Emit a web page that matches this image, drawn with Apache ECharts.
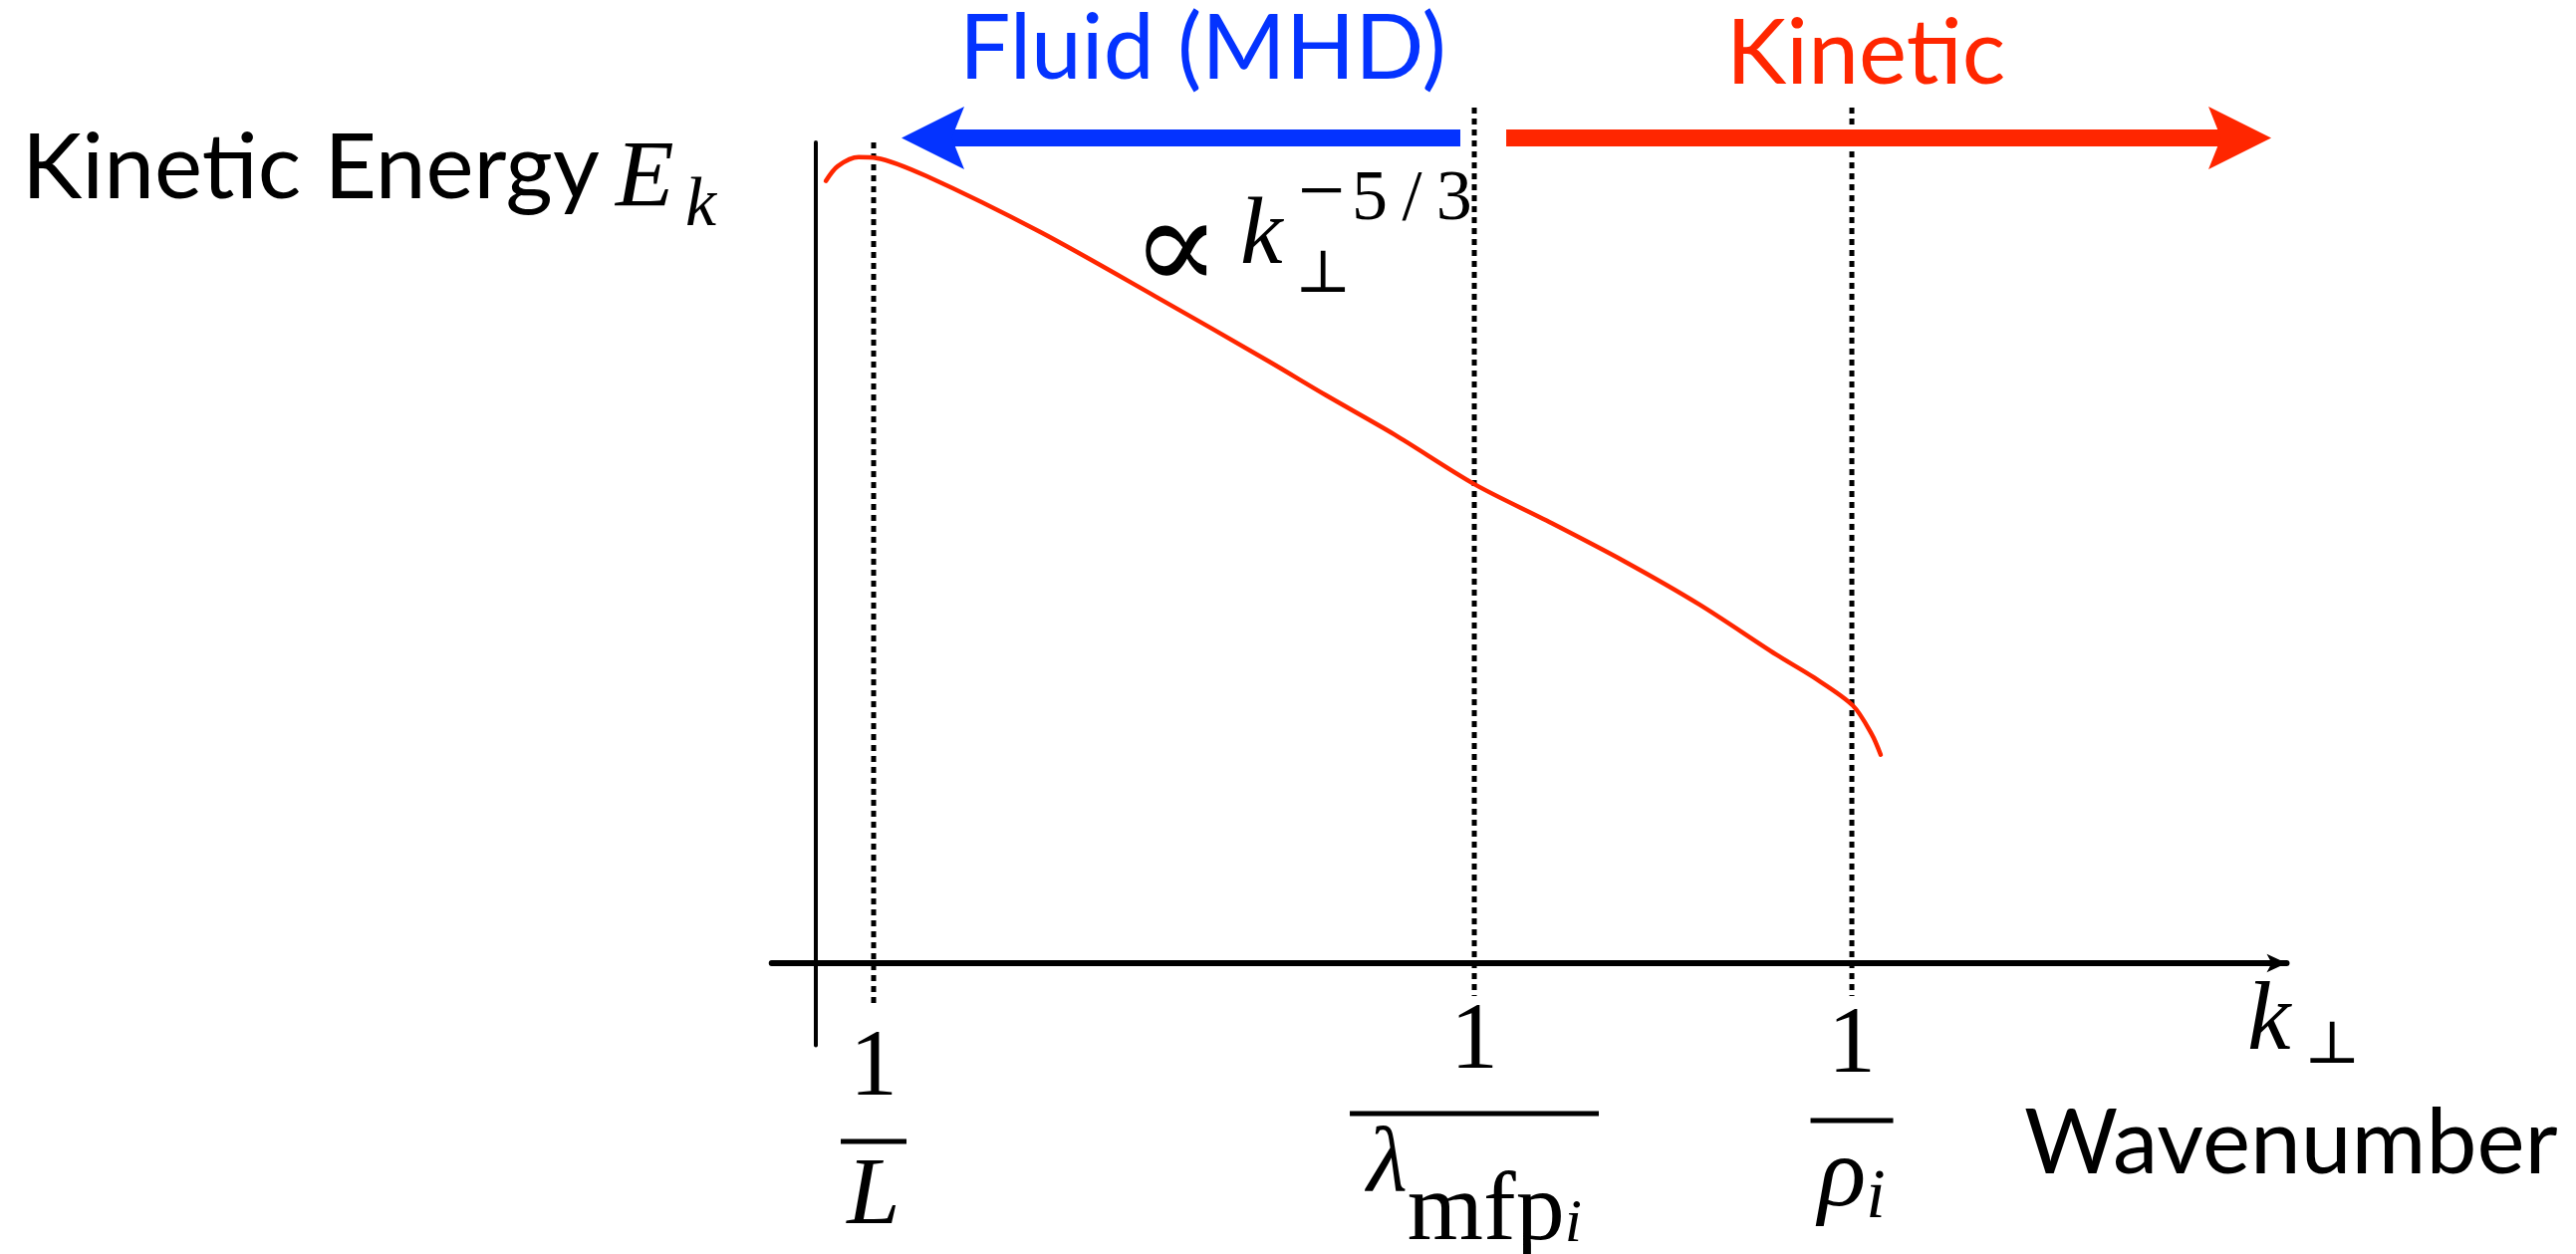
<!DOCTYPE html>
<html>
<head>
<meta charset="utf-8">
<script src="https://cdn.jsdelivr.net/npm/echarts@6/dist/echarts.min.js"></script>
<style>
html, body { margin: 0; padding: 0; background: #ffffff; }
#chart { width: 2586px; height: 1259px; }
</style>
</head>
<body>
<div id="chart"></div>
<script>
// ---------------- data (schematic units) ----------------
// perpendicular wavenumber position (axis units) and kinetic energy (axis units)
const kPerp  = [0.68, 1.49, 2.91, 4.13, 7.52, 15.24, 23.03, 30.82, 34.68, 39.35, 44.84, 49.71, 54.93, 60.07, 65.29, 67.86, 70.50, 71.79, 72.40];
const energy = [95.3, 97.1, 98.2, 98.1, 95.9, 89.1, 81.3, 73.3, 69.2, 64.4, 58.3, 53.9, 49.0, 43.7, 37.6, 34.8, 31.4, 27.9, 25.4];

// characteristic scales 1/L, 1/lambda_mfp_i, 1/rho_i
const scaleMarks   = [3.93, 44.77, 70.44];
const scaleNum     = ['1', '1', '1'];
const scaleDen     = ['L', 'λ', 'ρ'];
const scaleDenSub  = ['', 'mfp', ''];
const scaleDenIdx  = ['', 'i', 'i'];
const guideTop     = [100.0, 104.25, 104.25];
const guideBottom  = [-5.2, -4.0, -4.0];

// regime arrows
const regimeNames  = ['Fluid (MHD)', 'Kinetic'];
const fluidRange   = [43.82, 7.96];
const kineticRange = [46.94, 96.82];
const regimeLevel  = 100.55;

// axis texts
const yTitle = 'Kinetic Energy';
const xTitle = 'Wavenumber';
const slopeExp = '5\u2009/\u20093';

// ---------------- styling / layout ----------------
const BLUE = '#0433ff';
const RED = '#ff2600';
const SANS = 'Lato';
const SERIF = 'Liberation Serif';
const MATH = 'DejaVu Serif';
const ARROW = 'path://M50,0 L100,100 L50,80 L0,100 Z';

const F = {
  num:  { size: 96, style: 'normal' },
  denL: { size: 96, style: 'italic' },
  lam:  { size: 94, style: 'italic' },
  mfp:  { size: 98, style: 'normal' },
  subI: { size: 62, style: 'italic' },
  rho:  { size: 100, style: 'italic' },
  rhoI: { size: 70, style: 'italic' }
};

const measureCtx = document.createElement('canvas').getContext('2d');
function textWidth(text, f) {
  measureCtx.font = f.style + ' ' + f.size + 'px "' + SERIF + '"';
  return measureCtx.measureText(text).width;
}
const wLam = textWidth(scaleDen[1], F.lam);
const wSub = textWidth(scaleDenSub[1], F.mfp) + textWidth(scaleDenIdx[1], F.subI);
const wRho = textWidth(scaleDen[2], F.rho);
const wRhoI = textWidth(scaleDenIdx[2], F.rhoI);

const chart = echarts.init(document.getElementById('chart'), null, { renderer: 'canvas' });

function markIndex(v) {
  let best = 0;
  for (let i = 1; i < scaleMarks.length; i++) {
    if (Math.abs(scaleMarks[i] - v) < Math.abs(scaleMarks[best] - v)) best = i;
  }
  return best;
}

// main fraction: numerator, bar, denominator base symbol (subscripts reserved as blank space)
function fracLabel(v) {
  const idx = markIndex(v);
  if (idx === 0) return '{nL|' + scaleNum[0] + '}\n{bL|}\n{dL|' + scaleDen[0] + '}';
  if (idx === 1) return '{nM|' + scaleNum[1] + '}\n{bM|}\n{dM|' + scaleDen[1] + '}{gM|}';
  return '{nR|' + scaleNum[2] + '}\n{bR|}\n{dR|' + scaleDen[2] + '}{gR|}';
}
// subscripts, drawn lower on a second (label-only) axis sharing the same scale
function subLabel(v) {
  const idx = markIndex(v);
  if (idx === 1) return '{hM|}{sM|' + scaleDenSub[1] + '}{iM|' + scaleDenIdx[1] + '}';
  if (idx === 2) return '{hR|}{iR|' + scaleDenIdx[2] + '}';
  return '';
}

const serif = (f, extra) => Object.assign({ fontFamily: SERIF, fontSize: f.size, fontStyle: f.style, color: '#000' }, extra || {});
const gap = (w) => ({ width: w, height: 1, lineHeight: 1 });

const rich = {
  nL: serif(F.num, { lineHeight: 153.5, padding: [14, 0, 0, 0] }),
  bL: { width: 66, height: 5, lineHeight: 5, backgroundColor: '#000' },
  dL: serif(F.denL, { lineHeight: 108 }),

  nM: serif(F.num, { lineHeight: 125.5, padding: [0, 0, 12, 0] }),
  bM: { width: 250, height: 5, lineHeight: 5, backgroundColor: '#000' },
  dM: serif(F.lam, { lineHeight: 100 }),
  gM: gap(wSub),

  nR: serif(F.num, { lineHeight: 132.5, padding: [0, 0, 11, 0] }),
  bR: { width: 83, height: 5, lineHeight: 5, backgroundColor: '#000' },
  dR: serif(F.rho, { lineHeight: 100, padding: [13, 0, 0, 0] }),
  gR: gap(wRhoI)
};

const richSub = {
  hM: gap(wLam),
  sM: serif(F.mfp, { lineHeight: 100 }),
  iM: serif(F.subI, { lineHeight: 100, padding: [24, 0, 0, 0] }),
  hR: gap(wRho),
  iR: serif(F.rhoI, { lineHeight: 71 })
};

const guideSeries = scaleMarks.map((x, i) => ({
  type: 'line',
  data: [[x, guideTop[i]], [x, guideBottom[i]]],
  symbol: 'none',
  clip: false,
  silent: true,
  z: 2,
  lineStyle: { color: '#000', width: 5, type: [6, 5] }
}));

function arrowSeries(range, color) {
  return {
    type: 'lines',
    coordinateSystem: 'cartesian2d',
    clip: false,
    silent: true,
    z: 4,
    symbol: ['none', ARROW],
    symbolSize: 63,
    lineStyle: { color: color, width: 17, opacity: 1, curveness: 0 },
    data: [{ coords: [[range[0], regimeLevel], [range[1], regimeLevel]] }]
  };
}

function txt(text, x, y, font, extra) {
  return {
    type: 'text', x: x, y: y, z: 10, silent: true,
    style: Object.assign({
      text: text, fontFamily: font.family, fontSize: font.size, fontStyle: font.style || 'normal',
      fill: font.color || '#000', align: 'left', verticalAlign: 'middle'
    }, extra || {})
  };
}

// labels are anchored at the grid's bottom edge (y = -10)
const LABEL_MARGIN = 23 - 10 * 8.24;
const SUB_MARGIN = 118.6;

const option = {
  animation: false,
  backgroundColor: '#ffffff',
  grid: { left: 774.7, right: 290.5, top: 143, bottom: 209.6, containLabel: false, outerBoundsMode: 'none' },
  xAxis: [
    {
      type: 'value', min: -3, max: 100,
      axisLine: { onZero: true, symbol: ['none', 'arrow'], symbolSize: [14, 20], lineStyle: { color: '#000', width: 6 } },
      axisTick: { show: false },
      splitLine: { show: false },
      axisLabel: { customValues: scaleMarks, margin: LABEL_MARGIN, formatter: fracLabel, rich: rich, color: '#000', hideOverlap: false }
    },
    {
      type: 'value', min: -3, max: 100, position: 'bottom',
      axisLine: { show: false, onZero: false },
      axisTick: { show: false },
      splitLine: { show: false },
      axisLabel: { customValues: [scaleMarks[1], scaleMarks[2]], margin: SUB_MARGIN, formatter: subLabel, rich: richSub, color: '#000', hideOverlap: false }
    }
  ],
  yAxis: {
    type: 'value', min: -10, max: 100,
    axisLine: { onZero: true, lineStyle: { color: '#000', width: 4 } },
    axisTick: { show: false },
    axisLabel: { show: false },
    splitLine: { show: false }
  },
  series: [
    ...guideSeries,
    {
      type: 'line',
      data: kPerp.map((x, i) => [x, energy[i]]),
      smooth: 0.3,
      symbol: 'none',
      clip: false,
      z: 3,
      lineStyle: { color: RED, width: 4.5, cap: 'round' }
    },
    arrowSeries(fluidRange, BLUE),
    arrowSeries(kineticRange, RED)
  ],
  graphic: [
    txt(yTitle, 22, 170, { family: SANS, size: 91 }),
    txt('E', 618, 182, { family: SERIF, size: 96, style: 'italic' }),
    txt('k', 688, 208, { family: SERIF, size: 70, style: 'italic' }),
    txt(regimeNames[0], 963, 50, { family: SANS, size: 91, color: BLUE }),
    txt(regimeNames[1], 1733, 55, { family: SANS, size: 91, color: RED }),
    txt('∝', 1136, 257, { family: MATH, size: 132 }),
    txt('k', 1245, 239, { family: SERIF, size: 96, style: 'italic' }),
    txt('⊥', 1300, 277, { family: MATH, size: 60 }),
    txt('−', 1303, 197, { family: SERIF, size: 84 }),
    txt(slopeExp, 1357, 201, { family: SERIF, size: 72 }),
    txt('k', 2256, 1027, { family: SERIF, size: 98, style: 'italic' }),
    txt('⊥', 2313, 1051, { family: MATH, size: 60 }),
    txt(xTitle, 2032, 1149, { family: SANS, size: 91 })
  ]
};

chart.setOption(option);
</script>
</body>
</html>
